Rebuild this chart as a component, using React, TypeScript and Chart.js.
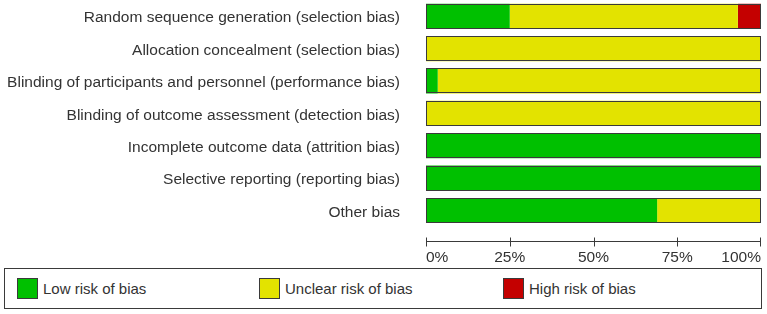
import { useEffect, useRef } from "react";
import { Chart, registerables } from "chart.js";

Chart.register(...registerables);

// Risk-of-bias domains, top to bottom
const categories = [
  "Random sequence generation (selection bias)",
  "Allocation concealment (selection bias)",
  "Blinding of participants and personnel (performance bias)",
  "Blinding of outcome assessment (detection bias)",
  "Incomplete outcome data (attrition bias)",
  "Selective reporting (reporting bias)",
  "Other bias",
];

// Percentage of studies in each judgement
const lowRisk = [25, 0, 3.5, 0, 100, 100, 69];
const unclearRisk = [68.1, 100, 96.5, 100, 0, 0, 31];
const highRisk = [6.9, 0, 0, 0, 0, 0, 0];

const xTicks = [0, 25, 50, 75, 100];

const seriesNames = ["Low risk of bias", "Unclear risk of bias", "High risk of bias"];
const seriesColors = ["#00c000", "#e3e300", "#c40000"];

const FONT = "'Liberation Sans', Arial, sans-serif";
const TEXT = "#333333";
const EDGE = "#3a3a3a";

// Outlines each full bar and draws the crossed-tick percentage axis
const frameAndAxis = {
  id: "frameAndAxis",
  afterDatasetsDraw(chart: any) {
    const { ctx, chartArea } = chart;
    const xs = chart.scales.x;
    const left = Math.round(xs.getPixelForValue(0));
    const right = Math.round(xs.getPixelForValue(100));
    const meta = chart.getDatasetMeta(0);
    ctx.save();
    ctx.strokeStyle = EDGE;
    ctx.lineWidth = 1;
    meta.data.forEach((el: any) => {
      const { y, height } = el.getProps(["y", "height"], true);
      const top = Math.round(y - height / 2) + 0.5;
      ctx.strokeRect(left + 0.5, top, right - left - 1, Math.round(height) - 1);
    });
    const ay = Math.round(chartArea.bottom + 14) + 0.5;
    ctx.beginPath();
    ctx.moveTo(left, ay);
    ctx.lineTo(right, ay);
    xTicks.forEach((v) => {
      let px = Math.round(xs.getPixelForValue(v)) + 0.5;
      if (v === 100) px -= 1;
      ctx.moveTo(px, ay - 4);
      ctx.lineTo(px, ay + 5);
    });
    ctx.stroke();
    ctx.restore();
  },
};

export default function App() {
  const canvasRef = useRef<HTMLCanvasElement | null>(null);

  useEffect(() => {
    if (!canvasRef.current) return;
    const series = [lowRisk, unclearRisk, highRisk];
    const chart = new Chart(canvasRef.current, {
      type: "bar",
      data: {
        labels: categories,
        datasets: series.map((values, i) => ({
          label: seriesNames[i],
          data: values,
          backgroundColor: seriesColors[i],
          borderWidth: 0,
          categoryPercentage: 1,
          barPercentage: 0.775,
        })),
      },
      options: {
        indexAxis: "y",
        responsive: false,
        animation: false,
        layout: { padding: { top: 0, right: 6, left: 0, bottom: 0 } },
        plugins: {
          legend: { display: false },
          tooltip: { enabled: false },
        },
        scales: {
          x: {
            stacked: true,
            min: 0,
            max: 100,
            grid: { display: false, drawTicks: true, tickLength: 22 },
            border: { display: false },
            afterBuildTicks: (s: any) => {
              s.ticks = xTicks.map((v) => ({ value: v }));
            },
            afterFit: (s: any) => {
              s.height = 37.3;
              s.paddingLeft = 0;
              s.paddingRight = 0;
            },
            ticks: {
              align: "inner",
              padding: 0,
              color: TEXT,
              font: { family: FONT, size: 15.5 },
              callback: (v: any) => v + "%",
            },
          },
          y: {
            stacked: true,
            grid: { display: false, drawTicks: true, tickLength: 26 },
            border: { display: false },
            afterFit: (s: any) => {
              s.width = 426;
              s.paddingTop = 0;
              s.paddingBottom = 0;
            },
            ticks: {
              padding: 0,
              labelOffset: 2,
              color: TEXT,
              font: { family: FONT, size: 15.5 },
            },
          },
        },
      },
      plugins: [frameAndAxis],
    });
    return () => chart.destroy();
  }, []);

  const legendLeft = [17, 259, 503];

  return (
    <div style={{ position: "absolute", left: 0, top: 0, width: 767, height: 314, background: "#fff" }}>
      <canvas ref={canvasRef} width={767} height={264} style={{ display: "block" }} />
      <div
        style={{
          position: "absolute",
          left: 4,
          top: 268,
          width: 758,
          height: 41,
          boxSizing: "border-box",
          border: `1px solid ${EDGE}`,
        }}
      >
        {seriesNames.map((name, i) => (
          <div
            key={name}
            style={{
              position: "absolute",
              left: legendLeft[i] - 5,
              top: 9,
              display: "flex",
              alignItems: "center",
              height: 21,
            }}
          >
            <span
              style={{
                width: 21,
                height: 21,
                boxSizing: "border-box",
                border: `1px solid ${EDGE}`,
                background: seriesColors[i],
                display: "inline-block",
              }}
            />
            <span
              style={{
                marginLeft: 5,
                fontFamily: FONT,
                fontSize: 15,
                color: TEXT,
                whiteSpace: "nowrap",
                lineHeight: "21px",
              }}
            >
              {name}
            </span>
          </div>
        ))}
      </div>
    </div>
  );
}
